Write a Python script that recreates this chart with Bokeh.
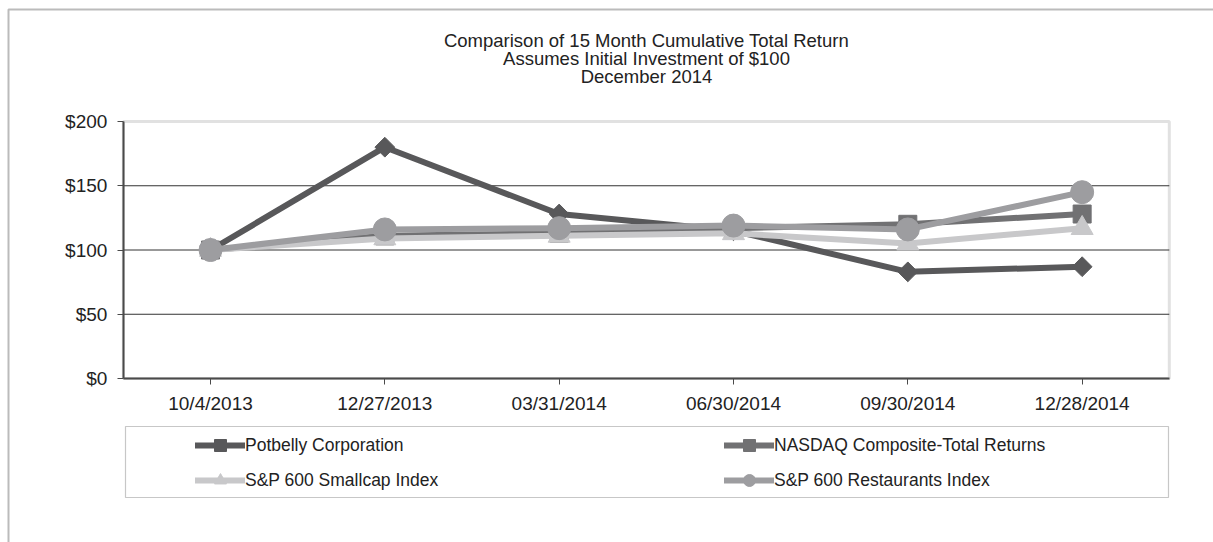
import math
from bokeh.plotting import figure
from bokeh.models import (Range1d, FixedTicker, NumeralTickFormatter, LinearAxis,
                          Legend, LegendItem, BoxAnnotation, Label)
from bokeh.embed import file_html
from bokeh.resources import INLINE

# ---- data ----
dates = ["10/4/2013", "12/27/2013", "03/31/2014", "06/30/2014", "09/30/2014", "12/28/2014"]
potbelly = [100, 180, 128, 115, 83, 87]
nasdaq = [100, 111, 113, 117, 120, 128]
smallcap = [100, 109, 111, 113, 105, 117]
restaurants = [100, 116, 117, 119, 116, 145]
y_ticks = [0, 50, 100, 150, 200]
title_lines = ["Comparison of 15 Month Cumulative Total Return",
               "Assumes Initial Investment of $100",
               "December 2014"]

FONT = "Liberation Sans"
TXT = "#222222"
W, H = 1213, 542

xpos = list(range(len(dates)))
# pixel layout: category i centred at 210 + 174.33*i ; value v at 378 - 1.285*v
STEP, X0 = 174.33, 210.0
VPX, Y0 = 1.285, 378.0
x_range = Range1d(-X0 / STEP, (W - X0) / STEP)
y_range = Range1d((Y0 - H) / VPX, Y0 / VPX)

p = figure(x_range=x_range, y_range=y_range, frame_width=W, frame_height=H,
           min_border=0, x_axis_location=None, y_axis_location=None,
           output_backend="svg", toolbar_location=None, tools="")
p.outline_line_color = None
p.xgrid.visible = False
p.ygrid.visible = False
p.background_fill_color = "white"
p.border_fill_color = "white"

x_lo, x_hi = xpos[0] - 0.5, xpos[-1] + 0.5
y_lo, y_hi = y_ticks[0], y_ticks[-1]

# plot-area border (gray top/right) and horizontal gridlines
p.add_layout(BoxAnnotation(left=x_lo, right=x_hi, bottom=y_lo, top=y_hi, level="underlay",
                           fill_alpha=0, line_color="#9a9a9a", line_width=3))
grid_vals = y_ticks[1:-1]
p.segment(x0=[x_lo] * len(grid_vals), x1=[x_hi] * len(grid_vals), y0=grid_vals, y1=grid_vals,
          line_color="#333333", line_width=1)

# axes
yax = LinearAxis(fixed_location=x_lo, bounds=(y_lo, y_hi), ticker=FixedTicker(ticks=y_ticks),
                 formatter=NumeralTickFormatter(format="$0"))
xax = LinearAxis(fixed_location=y_lo, bounds=(x_lo, x_hi), ticker=FixedTicker(ticks=xpos),
                 major_label_overrides={i: d for i, d in zip(xpos, dates)})
for ax in (xax, yax):
    ax.axis_line_color = "#4a4a4a"
    ax.axis_line_width = 2
    ax.major_tick_line_color = "#4a4a4a"
    ax.major_tick_line_width = 1
    ax.major_tick_out = 6
    ax.major_tick_in = 0
    ax.minor_tick_line_color = None
    ax.major_label_text_font = FONT
    ax.major_label_text_font_size = "19px"
    ax.major_label_text_color = TXT
yax.major_label_standoff = 10
xax.major_label_standoff = 8
p.add_layout(yax, "left")
p.add_layout(xax, "below")

# title lines
for t, ty in zip(title_lines, [40, 58, 76]):
    p.add_layout(Label(x=646, y=ty, x_units="canvas", y_units="canvas", text=t,
                       text_align="center", text_baseline="middle", text_font=FONT,
                       text_font_size="18.5px", text_color=TXT))

series = [
    ("Potbelly Corporation", potbelly, "#58585a", "square", 14, math.pi / 4),
    ("NASDAQ Composite-Total Returns", nasdaq, "#717173", "square", 18, 0),
    ("S&P 600 Smallcap Index", smallcap, "#c8c8ca", "triangle", 22, 0),
    ("S&P 600 Restaurants Index", restaurants, "#9d9da0", "circle", 23, 0),
]
items = []
for name, vals, col, mk, sz, ang in series:
    l = p.line(xpos, vals, line_color=col, line_width=6, line_join="round", line_cap="round")
    s = p.scatter(xpos, vals, marker=mk, size=sz, angle=ang, fill_color=col, line_color=col)
    items.append(LegendItem(label=name, renderers=[l, s]))

def make_legend(its, x):
    lg = Legend(items=its, location=(x, H - 495), orientation="vertical",
                glyph_width=50, glyph_height=30, label_height=30, label_standoff=0,
                spacing=5, padding=0, margin=0,
                label_text_font=FONT, label_text_font_size="17.5px", label_text_color=TXT,
                border_line_color=None, background_fill_alpha=0)
    p.add_layout(lg, "center")

make_legend([items[0], items[2]], 195)
make_legend([items[1], items[3]], 724)

# legend box
p.add_layout(BoxAnnotation(left=125, right=1168, top=426, bottom=497,
                           left_units="canvas", right_units="canvas",
                           top_units="canvas", bottom_units="canvas",
                           fill_alpha=0, line_color="#444444", line_width=1.2))
# outer frame (top and left edges)
p.add_layout(BoxAnnotation(left=8, right=1600, top=9, bottom=1000,
                           left_units="canvas", right_units="canvas",
                           top_units="canvas", bottom_units="canvas",
                           fill_alpha=0, line_color="#1e1e1e", line_width=2))

open("out.html", "w").write(file_html(p, INLINE))
